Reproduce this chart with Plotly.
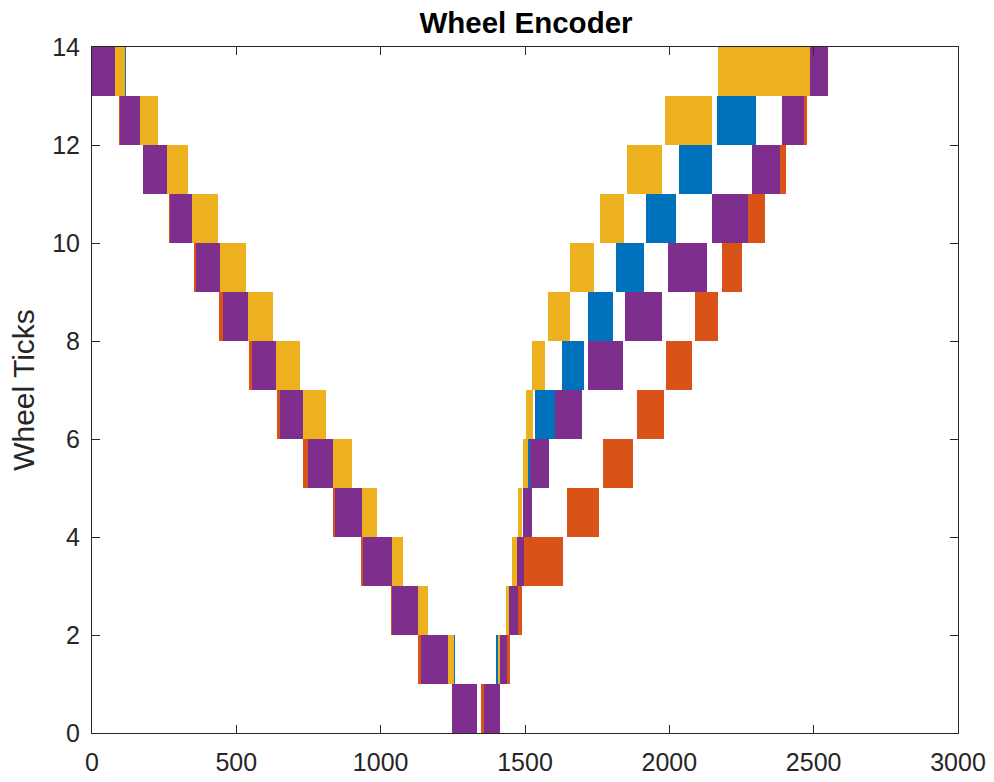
import plotly.graph_objects as go

# Wheel encoder tick count vs. sample index for four runs.
# Each block spans one tick level; its x-extent is the range of sample
# indices over which the repeated traces of that run change level.

# ---- run 1 (blue) ----
blue_level = [13, 12, 11, 10, 9, 8, 7, 6, 5, 4, 3, 2, 1, 0,
              0, 1, 2, 3, 4, 5, 6, 7, 8, 9, 10, 11, 12, 13]
blue_start = [20, 110, 195, 285, 375, 470, 565, 665, 765, 855, 950, 1050, 1150, 1255,
              1360, 1401, 1447, 1475, 1500, 1510, 1535, 1627, 1719, 1815, 1919, 2034, 2164, 2300]
blue_end = [117, 222, 326, 432, 527, 622, 715, 804, 896, 982, 1072, 1159, 1257, 1325,
            1400, 1430, 1470, 1495, 1520, 1522, 1604, 1705, 1804, 1912, 2023, 2147, 2300, 2420]

# ---- run 2 (orange) ----
orange_level = [13, 12, 11, 10, 9, 8, 7, 6, 5, 4, 3, 2, 1, 0,
                0, 1, 2, 3, 4, 5, 6, 7, 8, 9, 10, 11, 12]
orange_start = [0, 92, 175, 265, 352, 441, 544, 640, 730, 836, 931, 1035, 1130, 1250,
                1349, 1415, 1450, 1497, 1645, 1769, 1887, 1989, 2089, 2181, 2274, 2345, 2420]
orange_end = [60, 150, 240, 330, 425, 520, 620, 715, 815, 915, 1020, 1115, 1215, 1320,
              1400, 1447, 1488, 1631, 1757, 1873, 1982, 2077, 2170, 2250, 2331, 2404, 2478]

# ---- run 3 (yellow) ----
yellow_level = [13, 12, 11, 10, 9, 8, 7, 6, 5, 4, 3, 2, 1, 0,
                0, 1, 2, 3, 4, 5, 6, 7, 8, 9, 10, 11, 12, 13]
yellow_start = [30, 120, 205, 300, 390, 485, 580, 680, 775, 870, 965, 1065, 1165, 1265,
                1360, 1405, 1434, 1454, 1477, 1492, 1503, 1523, 1581, 1656, 1760, 1852, 1985, 2170]
yellow_end = [114, 228, 332, 438, 533, 628, 721, 810, 902, 988, 1078, 1165, 1254, 1320,
              1395, 1432, 1462, 1471, 1488, 1511, 1529, 1569, 1656, 1739, 1843, 1973, 2147, 2487]

# ---- run 4 (purple) ----
purple_level = [13, 12, 11, 10, 9, 8, 7, 6, 5, 4, 3, 2, 1, 0,
                0, 1, 2, 3, 4, 5, 6, 7, 8, 9, 10, 11, 12, 13]
purple_start = [0, 97, 178, 270, 359, 455, 553, 651, 749, 842, 938, 1040, 1139, 1246,
                1357, 1412, 1445, 1471, 1494, 1517, 1604, 1719, 1846, 1996, 2147, 2288, 2392, 2487]
purple_end = [80, 166, 259, 347, 443, 541, 637, 732, 834, 934, 1038, 1130, 1234, 1332,
              1412, 1438, 1476, 1497, 1523, 1584, 1696, 1840, 1973, 2131, 2273, 2383, 2466, 2551]

x_ticks = [0, 500, 1000, 1500, 2000, 2500, 3000]
y_ticks = [0, 2, 4, 6, 8, 10, 12, 14]

series = [
    ("#0072BD", blue_level, blue_start, blue_end),
    ("#D95319", orange_level, orange_start, orange_end),
    ("#EDB120", yellow_level, yellow_start, yellow_end),
    ("#7E2F8E", purple_level, purple_start, purple_end),
]

fig = go.Figure()
for color, lvl, t0, t1 in series:
    fig.add_trace(go.Bar(
        x=[(a + b) / 2 for a, b in zip(t0, t1)],
        y=[1] * len(lvl),
        base=lvl,
        width=[b - a for a, b in zip(t0, t1)],
        marker=dict(color=color, line=dict(width=0)),
        showlegend=False,
        hoverinfo="skip",
    ))

axis_color = "#262626"
font_family = "Liberation Sans, Arial, sans-serif"

fig.update_layout(
    width=994,
    height=782,
    margin=dict(l=92, r=36, t=47, b=49, autoexpand=False),
    paper_bgcolor="white",
    plot_bgcolor="white",
    barmode="overlay",
    bargap=0,
    font=dict(family=font_family, color=axis_color),
    title=dict(
        text="<b>Wheel Encoder</b>",
        font=dict(size=29.5, color="#000000", family=font_family),
        x=526 / 994, xanchor="center", xref="container",
        y=1 - 23 / 782, yanchor="middle", yref="container",
    ),
)

fig.update_xaxes(
    range=[0, 3000],
    tickvals=x_ticks,
    ticktext=[str(v) for v in x_ticks],
    ticks="inside", ticklen=8, tickwidth=1, tickcolor=axis_color,
    showline=True, linecolor=axis_color, linewidth=1, mirror="ticks",
    showgrid=False, zeroline=False,
    tickfont=dict(size=25, color=axis_color, family=font_family),
    ticklabelstandoff=7,
)
fig.update_yaxes(
    range=[0, 14],
    tickvals=y_ticks,
    ticktext=[str(v) for v in y_ticks],
    ticks="inside", ticklen=8, tickwidth=1, tickcolor=axis_color,
    showline=True, linecolor=axis_color, linewidth=1, mirror="ticks",
    showgrid=False, zeroline=False,
    tickfont=dict(size=25, color=axis_color, family=font_family),
    ticklabelstandoff=6,
    title=dict(text="Wheel Ticks", standoff=8,
               font=dict(size=30, color=axis_color, family=font_family)),
)

fig.write_html("out.html")
